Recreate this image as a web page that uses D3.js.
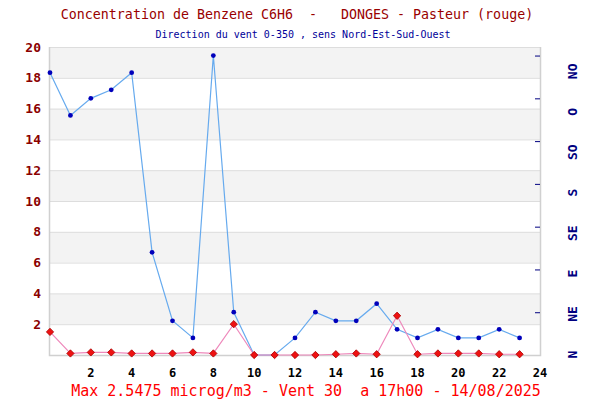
<!DOCTYPE html>
<html><head><meta charset="utf-8">
<script src="https://cdn.jsdelivr.net/npm/d3@7"></script>
<style>body{margin:0;background:#fff}svg{display:block}</style>
</head><body>
<svg id="c" width="600" height="400"></svg>
<script>
const hours = [0,1,2,3,4,5,6,7,8,9,10,11,12,13,14,15,16,17,18,19,20,21,22,23];
const benzene = [1.5,0.1,0.17,0.17,0.1,0.1,0.1,0.17,0.1,2.0,0,0,0,0,0.05,0.1,0.05,2.5475,0.05,0.1,0.1,0.1,0.05,0.05];
const wind = [330,280,300,310,330,120,40,20,350,50,0,0,20,50,40,40,60,30,20,30,20,20,30,20];
const xTicks = [2,4,6,8,10,12,14,16,18,20,22,24];
const yTicks = [2,4,6,8,10,12,14,16,18,20];
const windTicks = [50,100,150,200,250,300,350];
const windLabels = ["N","NE","E","SE","S","SO","O","NO"];
const windLabelDeg = [0,45,90,135,180,225,270,315];
const title = "Concentration de Benzene C6H6  -   DONGES - Pasteur (rouge)";
const subtitle = "Direction du vent 0-350 , sens Nord-Est-Sud-Ouest";
const footer = "Max 2.5475 microg/m3 - Vent 30  a 17h00 - 14/08/2025";

const svg = d3.select("#c");
const L=50,R=540,T=47,B=355;
const x = d3.scaleLinear().domain([0,24]).range([L,R]);
const y = d3.scaleLinear().domain([0,20]).range([B,T]);
const yw = d3.scaleLinear().domain([0,360]).range([B,T]);
const ylab = d3.scaleLinear().domain([0,315]).range([354.5,71.3]);
const mono = "'DejaVu Sans Mono','Liberation Mono',monospace";

// bands
const bands = d3.range(0,20,2);
svg.append("g").selectAll("rect").data(bands).join("rect")
  .attr("x",L).attr("width",R-L)
  .attr("y",d=>y(d+2)).attr("height",d=>y(d)-y(d+2))
  .attr("fill",(d,i)=> i%2===1 ? "#f3f3f3" : "#ffffff");
svg.append("g").selectAll("line").data(yTicks).join("line")
  .attr("x1",L).attr("x2",R).attr("y1",d=>y(d)+0.5).attr("y2",d=>y(d)+0.5)
  .attr("stroke","#dddddd").attr("stroke-width",1);
// frame
svg.append("path").attr("d",`M${L-0.5},${T}V${B+0.5}H${R+0.5}V${T}`)
  .attr("fill","none").attr("stroke","#d0d0d0").attr("stroke-width",1.5);

// left axis labels
svg.append("g").selectAll("text").data(yTicks).join("text")
  .attr("x",41).attr("y",d=>y(d)).attr("dy","0.35em").attr("text-anchor","end")
  .attr("font-family",mono).attr("font-weight","bold").attr("font-size",13)
  .attr("fill","#8b0000").text(d=>d);
// x labels
svg.append("g").selectAll("text").data(xTicks).join("text")
  .attr("x",d=>x(d)).attr("y",373).attr("dy","0.35em").attr("text-anchor","middle")
  .attr("font-family",mono).attr("font-weight","bold").attr("font-size",12)
  .attr("fill","#000").text(d=>d);
// right ticks
svg.append("g").selectAll("line").data(windTicks).join("line")
  .attr("x1",535).attr("x2",540).attr("y1",d=>yw(d)+0.5).attr("y2",d=>yw(d)+0.5)
  .attr("stroke","#000080").attr("stroke-width",1);
// right labels
svg.append("g").selectAll("text").data(windLabels).join("text")
  .attr("transform",(d,i)=>`translate(577,${ylab(windLabelDeg[i])}) rotate(-90)`)
  .attr("text-anchor","middle")
  .attr("font-family",mono).attr("font-weight","bold").attr("font-size",13)
  .attr("fill","#000080").text(d=>d);

// wind line
const windData = hours.map((h,i)=>[h,wind[i]]);
svg.append("path").datum(windData)
  .attr("d",d3.line().x(d=>x(d[0])).y(d=>yw(d[1])))
  .attr("fill","none").attr("stroke","#66aaee").attr("stroke-width",1.2);
svg.append("g").selectAll("circle").data(windData).join("circle")
  .attr("cx",d=>x(d[0])).attr("cy",d=>yw(d[1])).attr("r",2.4)
  .attr("fill","#0000bb");

// benzene line
const bData = hours.map((h,i)=>[h,benzene[i]]);
svg.append("path").datum(bData)
  .attr("d",d3.line().x(d=>x(d[0])).y(d=>y(d[1])))
  .attr("fill","none").attr("stroke","#ee88bb").attr("stroke-width",1.2);
svg.append("g").selectAll("path").data(bData).join("path")
  .attr("transform",d=>`translate(${x(d[0])},${y(d[1])})`)
  .attr("d",d3.symbol(d3.symbolDiamond2,34))
  .attr("fill","#ee1111").attr("stroke","#aa0000").attr("stroke-width",0.8);

// texts
svg.append("text").attr("x",297).attr("y",14).attr("dy","0.35em").attr("text-anchor","middle")
  .attr("font-family",mono).attr("font-size",13.3).attr("fill","#990000")
  .attr("xml:space","preserve").style("white-space","pre").text(title);
svg.append("text").attr("x",303).attr("y",34).attr("dy","0.35em").attr("text-anchor","middle")
  .attr("font-family",mono).attr("font-size",10).attr("fill","#000099")
  .style("white-space","pre").text(subtitle);
svg.append("text").attr("x",306).attr("y",391).attr("dy","0.35em").attr("text-anchor","middle")
  .attr("font-family",mono).attr("font-size",15).attr("fill","#ff0000")
  .style("white-space","pre").text(footer);
</script>
</body></html>
